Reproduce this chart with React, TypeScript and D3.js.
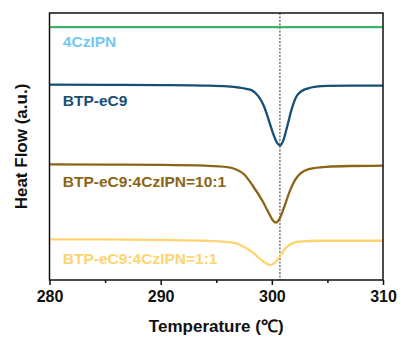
import React, { useEffect, useRef } from "react";
import * as d3 from "d3";

// DSC traces (temperature in °C, heat flow in a.u., offset stacked)
const temp4CzIPN = [280, 310];
const flow4CzIPN = [9.47, 9.47];

const tempEC9 = [280, 285, 290, 294, 296, 297, 297.7, 298.3, 298.8, 299.3, 299.7, 300.1, 300.45, 300.75, 301.05, 301.4, 301.8, 302.2, 302.7, 303.2, 304, 305, 307, 310];
const flowEC9 = [7.32, 7.31, 7.3, 7.28, 7.25, 7.21, 7.16, 7.08, 6.88, 6.5, 6.02, 5.5, 5.15, 5.04, 5.25, 5.78, 6.42, 6.86, 7.08, 7.17, 7.24, 7.27, 7.28, 7.28];

const temp10to1 = [280, 285, 290, 294, 296, 296.8, 297.5, 298.3, 299.2, 299.8, 300.1, 300.37, 300.7, 301.1, 301.6, 302.1, 302.6, 303.4, 304.9, 307, 310];
const flow10to1 = [4.33, 4.32, 4.31, 4.28, 4.23, 4.14, 3.96, 3.52, 2.93, 2.45, 2.23, 2.15, 2.3, 2.72, 3.31, 3.75, 4.0, 4.16, 4.24, 4.27, 4.28];

const temp1to1 = [280, 285, 290, 294, 296.5, 297.2, 297.9, 298.9, 299.5, 299.85, 300.2, 300.6, 301.3, 301.9, 302.5, 304.3, 310];
const flow1to1 = [1.52, 1.52, 1.5, 1.47, 1.4, 1.3, 1.14, 0.81, 0.62, 0.56, 0.62, 0.81, 1.22, 1.38, 1.44, 1.47, 1.47];

const seriesNames = ["4CzIPN", "BTP-eC9", "BTP-eC9:4CzIPN=10:1", "BTP-eC9:4CzIPN=1:1"];
const lineColors = ["#3cb46e", "#164f74", "#8c6416", "#fdd470"];
const labelColors = ["#74c8f2", "#164f74", "#8c6416", "#fdd470"];
// label heights in a.u. (placed under each trace)
const labelFlow = [8.71, 6.51, 3.49, 0.6];
const labelTemp = 281.2;

const majorTicks = [280, 290, 300, 310];
const minorTicks = [285, 295, 305];
const meltingPoint = 300.73;

const W = 403;
const H = 338;
const margin = { top: 13, right: 20, bottom: 58, left: 49.5 };

export default function App() {
  const svgRef = useRef<SVGSVGElement>(null);

  useEffect(() => {
    const svg = d3.select(svgRef.current);
    svg.selectAll("*").remove();

    const x = d3.scaleLinear().domain([280, 310]).range([margin.left, W - margin.right]);
    const y = d3.scaleLinear().domain([0, 10]).range([H - margin.bottom, margin.top]);

    const font = "Arial, 'Liberation Sans', sans-serif";

    const traces = [
      { t: temp4CzIPN, f: flow4CzIPN },
      { t: tempEC9, f: flowEC9 },
      { t: temp10to1, f: flow10to1 },
      { t: temp1to1, f: flow1to1 },
    ];

    const line = d3
      .line<[number, number]>()
      .x((d) => x(d[0]))
      .y((d) => y(d[1]))
      .curve(d3.curveMonotoneX);

    // dotted reference line
    svg
      .append("line")
      .attr("x1", x(meltingPoint))
      .attr("x2", x(meltingPoint))
      .attr("y1", y(10))
      .attr("y2", y(0))
      .attr("stroke", "#333")
      .attr("stroke-width", 1)
      .attr("stroke-dasharray", "2,1.5");

    traces.forEach((tr, i) => {
      const pts = tr.t.map((t, j) => [t, tr.f[j]] as [number, number]);
      svg
        .append("path")
        .attr("d", line(pts))
        .attr("fill", "none")
        .attr("stroke", lineColors[i])
        .attr("stroke-width", 2.3);

      svg
        .append("text")
        .attr("x", x(labelTemp))
        .attr("y", y(labelFlow[i]))
        .attr("font-family", font)
        .attr("font-weight", "bold")
        .attr("font-size", 15.5)
        .attr("fill", labelColors[i])
        .text(seriesNames[i]);
    });

    // frame
    svg
      .append("rect")
      .attr("x", x(280))
      .attr("y", y(10))
      .attr("width", x(310) - x(280))
      .attr("height", y(0) - y(10))
      .attr("fill", "none")
      .attr("stroke", "#111")
      .attr("stroke-width", 1.5);

    // x axis
    const xAxis = svg
      .append("g")
      .attr("transform", `translate(0,${y(0)})`)
      .call(d3.axisBottom(x).tickValues(majorTicks).tickSize(5).tickFormat(d3.format("d")));
    xAxis.select(".domain").remove();
    xAxis.selectAll(".tick line").attr("stroke", "#111").attr("stroke-width", 1.5);
    xAxis
      .selectAll(".tick text")
      .attr("font-family", font)
      .attr("font-weight", "bold")
      .attr("font-size", 16)
      .attr("fill", "#111")
      .attr("dy", "0.85em");

    const xMinor = svg
      .append("g")
      .attr("transform", `translate(0,${y(0)})`)
      .call(d3.axisBottom(x).tickValues(minorTicks).tickSize(3).tickFormat(() => ""));
    xMinor.select(".domain").remove();
    xMinor.selectAll(".tick line").attr("stroke", "#111").attr("stroke-width", 1.5);

    // axis titles
    svg
      .append("text")
      .attr("x", (x(280) + x(310)) / 2)
      .attr("y", 332)
      .attr("text-anchor", "middle")
      .attr("font-family", font)
      .attr("font-weight", "bold")
      .attr("font-size", 17)
      .attr("fill", "#111")
      .text("Temperature (℃)");

    svg
      .append("text")
      .attr("transform", `translate(27,${(y(0) + y(10)) / 2}) rotate(-90)`)
      .attr("text-anchor", "middle")
      .attr("font-family", font)
      .attr("font-weight", "bold")
      .attr("font-size", 17)
      .attr("fill", "#111")
      .text("Heat Flow (a.u.)");
  }, []);

  return (
    <svg
      ref={svgRef}
      width={W}
      height={H}
      style={{ position: "absolute", left: 0, top: 0, background: "#fff" }}
    />
  );
}
